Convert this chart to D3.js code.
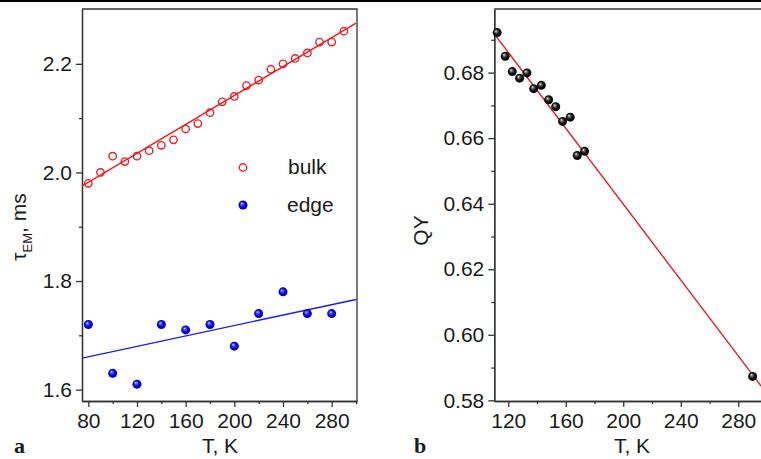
<!DOCTYPE html>
<html>
<head>
<meta charset="utf-8">
<script src="https://cdn.jsdelivr.net/npm/d3@7"></script>
<style>
  body { margin: 0; background: #fff; }
  text { fill: #1a1a1a; }
  .tick line, .domain { stroke: #333; stroke-width: 1.3px; }
</style>
</head>
<body>
<svg id="chart"></svg>
<script>
// panel a: emission lifetime vs temperature
const bulkTemps = [80, 90, 100, 110, 120, 130, 140, 150, 160, 170, 180, 190, 200, 210, 220, 230, 240, 250, 260, 270, 280, 290];
const bulkTau = [1.98, 2.00, 2.03, 2.02, 2.03, 2.04, 2.05, 2.06, 2.08, 2.09, 2.11, 2.13, 2.14, 2.16, 2.17, 2.19, 2.20, 2.21, 2.22, 2.24, 2.24, 2.26];
const bulkFitT = [75, 300];
const bulkFitTau = [1.975, 2.275];

const edgeTemps = [80, 100, 120, 140, 160, 180, 200, 220, 240, 260, 280];
const edgeTau = [1.72, 1.63, 1.61, 1.72, 1.71, 1.72, 1.68, 1.74, 1.78, 1.74, 1.74];
const edgeFitT = [75, 300];
const edgeFitTau = [1.658, 1.766];

// panel b: quantum yield vs temperature
const qyTemps = [112.3, 117.9, 122.8, 127.9, 133.0, 137.7, 143.0, 148.1, 153.0, 157.8, 163.1, 168.0, 173.1, 290];
const qyValues = [0.6922, 0.6850, 0.6803, 0.6783, 0.6799, 0.6751, 0.6761, 0.6717, 0.6696, 0.6651, 0.6664, 0.6547, 0.6560, 0.5873];
const qyFitT = [110.3, 300];
const qyFitValues = [0.6918, 0.5820];

// ticks
const aXTicks = [80, 120, 160, 200, 240, 280];
const aXMinor = [100, 140, 180, 220, 260, 300];
const aYTicks = [1.6, 1.8, 2.0, 2.2];
const aYMinor = [1.7, 1.9, 2.1];
const bXTicks = [120, 160, 200, 240, 280];
const bXMinor = [140, 180, 220, 260];
const bYTicks = [0.58, 0.60, 0.62, 0.64, 0.66, 0.68];
const bYMinor = [0.59, 0.61, 0.63, 0.65, 0.67, 0.69];

const sans = '"Liberation Sans", Arial, sans-serif';
const serif = '"Liberation Serif", "Times New Roman", serif';

const svg = d3.select('#chart')
    .attr('width', 761)
    .attr('height', 459)
    .style('font-family', sans);

// black rule across the top of the figure
svg.append('rect')
    .attr('x', 0).attr('y', 0)
    .attr('width', 761).attr('height', 2)
    .attr('fill', '#000');

// sphere shading for the filled markers
const defs = svg.append('defs');
function addSphere(id, stops) {
    let g = defs.append('radialGradient')
        .attr('id', id)
        .attr('cx', '50%').attr('cy', '50%').attr('r', '55%')
        .attr('fx', '35%').attr('fy', '32%');
    stops.forEach(s => g.append('stop').attr('offset', s[0]).attr('stop-color', s[1]));
}
addSphere('blueBall', [['0%', '#ffffff'], ['22%', '#5a5aff'], ['60%', '#0000f0'], ['100%', '#000080']]);
addSphere('blackBall', [['0%', '#ffffff'], ['22%', '#777'], ['55%', '#111'], ['100%', '#000']]);

class ScatterPanel {
    constructor(_config) {
        this.config = {
            id: _config.id,
            left: _config.left,
            right: _config.right,
            top: _config.top || 9,
            bottom: _config.bottom || 401,
            xDomain: _config.xDomain,
            yDomain: _config.yDomain,
            xTicks: _config.xTicks,
            xMinor: _config.xMinor,
            yTicks: _config.yTicks,
            yMinor: _config.yMinor,
            yFormat: _config.yFormat,
            closed: _config.closed
        }
        this.initVis();
    }

    initVis() {
        let vis = this;
        let c = vis.config;

        vis.x = d3.scaleLinear().domain(c.xDomain).range([c.left, c.right]);
        vis.y = d3.scaleLinear().domain(c.yDomain).range([c.bottom, c.top]);

        vis.g = svg.append('g');

        // clip the fit lines to the plot area
        defs.append('clipPath').attr('id', 'clip-' + c.id)
            .append('rect')
            .attr('x', c.left).attr('y', c.top)
            .attr('width', c.right - c.left).attr('height', c.bottom - c.top);

        // top border (and right border for the closed box)
        let border = c.closed
            ? `M${c.left},${c.top}H${c.right}V${c.bottom}`
            : `M${c.left},${c.top}H${c.right}`;
        vis.g.append('path')
            .attr('d', border)
            .attr('fill', 'none')
            .attr('stroke', '#333')
            .attr('stroke-width', 1.3);

        // minor ticks first, then the labelled axes on top
        vis.g.append('g')
            .attr('transform', `translate(0,${c.bottom})`)
            .call(d3.axisBottom(vis.x).tickValues(c.xMinor).tickSize(3).tickSizeOuter(0).tickFormat(''));
        vis.g.append('g')
            .attr('transform', `translate(${c.left},0)`)
            .call(d3.axisLeft(vis.y).tickValues(c.yMinor).tickSize(3).tickSizeOuter(0).tickFormat(''));

        vis.xAxis = vis.g.append('g')
            .attr('transform', `translate(0,${c.bottom})`)
            .call(d3.axisBottom(vis.x).tickValues(c.xTicks).tickSize(6).tickPadding(6).tickSizeOuter(0));
        vis.yAxis = vis.g.append('g')
            .attr('transform', `translate(${c.left},0)`)
            .call(d3.axisLeft(vis.y).tickValues(c.yTicks).tickSize(6).tickPadding(4).tickSizeOuter(0)
                .tickFormat(d3.format(c.yFormat)));

        vis.g.selectAll('.tick text')
            .attr('font-size', 21)
            .attr('font-family', sans)
            .attr('fill', '#1a1a1a');
    }

    addFit(ts, vs, color) {
        let vis = this;
        let line = d3.line().x(d => vis.x(d[0])).y(d => vis.y(d[1]));
        vis.g.append('path')
            .datum(d3.zip(ts, vs))
            .attr('d', line)
            .attr('clip-path', `url(#clip-${vis.config.id})`)
            .attr('fill', 'none')
            .attr('stroke', color)
            .attr('stroke-width', 1.4);
    }

    addOpen(ts, vs, color) {
        let vis = this;
        vis.g.selectAll(null)
            .data(d3.zip(ts, vs))
            .enter()
            .append('circle')
                .attr('cx', d => vis.x(d[0]))
                .attr('cy', d => vis.y(d[1]))
                .attr('r', 3.7)
                .attr('fill', 'none')
                .attr('stroke', color)
                .attr('stroke-width', 1.4);
    }

    addSpheres(ts, vs, grad) {
        let vis = this;
        vis.g.selectAll(null)
            .data(d3.zip(ts, vs))
            .enter()
            .append('circle')
                .attr('cx', d => vis.x(d[0]))
                .attr('cy', d => vis.y(d[1]))
                .attr('r', 4.5)
                .attr('fill', `url(#${grad})`);
    }
}

// panel a
const panelA = new ScatterPanel({
    id: 'a', left: 82, right: 357,
    xDomain: [74.8, 300.8], yDomain: [1.579, 2.301],
    xTicks: aXTicks, xMinor: aXMinor, yTicks: aYTicks, yMinor: aYMinor,
    yFormat: '.1f', closed: true
});
panelA.addFit(bulkFitT, bulkFitTau, '#f01818');
panelA.addFit(edgeFitT, edgeFitTau, '#1c1ce0');
panelA.addOpen(bulkTemps, bulkTau, '#e8202a');
panelA.addSpheres(edgeTemps, edgeTau, 'blueBall');

// legend
const legend = svg.append('g');
legend.append('circle')
    .attr('cx', 243).attr('cy', 167.5).attr('r', 3.7)
    .attr('fill', 'none').attr('stroke', '#e8202a').attr('stroke-width', 1.4);
legend.append('text').attr('x', 288).attr('y', 174).attr('font-size', 21).text('bulk');
legend.append('circle')
    .attr('cx', 243).attr('cy', 205).attr('r', 4.5)
    .attr('fill', 'url(#blueBall)');
legend.append('text').attr('x', 287).attr('y', 212).attr('font-size', 21).text('edge');

// panel b
const panelB = new ScatterPanel({
    id: 'b', left: 494.3, right: 767,
    xDomain: [110.3, 300], yDomain: [0.5798, 0.6994],
    xTicks: bXTicks, xMinor: bXMinor, yTicks: bYTicks, yMinor: bYMinor,
    yFormat: '.2f', closed: false
});
panelB.addFit(qyFitT, qyFitValues, '#e0202a');
panelB.addSpheres(qyTemps, qyValues, 'blackBall');

// axis titles
const yLabA = svg.append('text')
    .attr('transform', 'translate(26,227) rotate(-90)')
    .attr('text-anchor', 'middle')
    .attr('font-size', 21);
yLabA.append('tspan').text('τ');
yLabA.append('tspan').attr('font-size', 13).attr('dy', 6).text('EM');
yLabA.append('tspan').attr('dy', -6).text(', ms');

svg.append('text')
    .attr('transform', 'translate(428,230.5) rotate(-90)')
    .attr('text-anchor', 'middle')
    .attr('font-size', 21)
    .text('QY');

svg.append('text').attr('x', 220).attr('y', 452.5).attr('text-anchor', 'middle').attr('font-size', 21).text('T, K');
svg.append('text').attr('x', 632).attr('y', 452.5).attr('text-anchor', 'middle').attr('font-size', 21).text('T, K');

// panel letters
svg.append('text').attr('x', 14).attr('y', 453)
    .style('font-family', serif)
    .attr('font-weight', 'bold').attr('font-size', 22).text('a');
svg.append('text').attr('x', 414).attr('y', 453)
    .style('font-family', serif)
    .attr('font-weight', 'bold').attr('font-size', 22).text('b');
</script>
</body>
</html>
